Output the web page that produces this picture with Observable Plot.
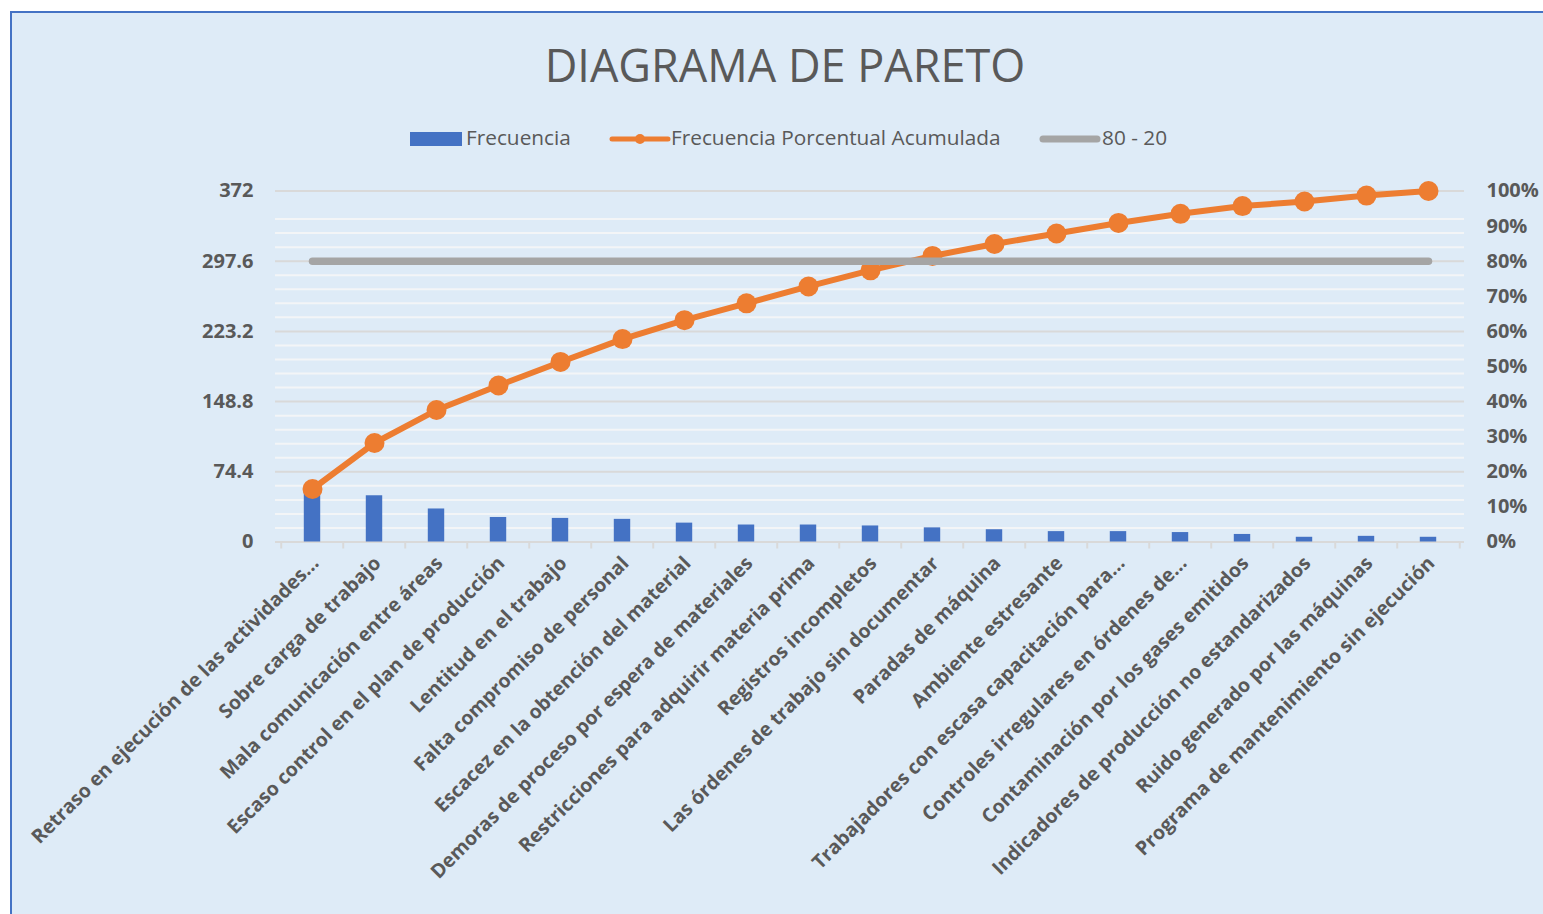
<!DOCTYPE html>
<html>
<head>
<meta charset="utf-8">
<script src="https://cdn.jsdelivr.net/npm/d3@7"></script>
<script src="https://cdn.jsdelivr.net/npm/@observablehq/plot@0.6"></script>
<style>
  html, body { margin: 0; padding: 0; background: #ffffff; }
  #wrap { position: relative; width: 1543px; height: 914px; overflow: hidden; font-family: "Open Sans", sans-serif; color: #595959; }
  #frame { position: absolute; left: 10px; top: 11px; width: 1600px; height: 1000px; border: 2px solid #4472C4; background: #DEEBF7; }
  #title { position: absolute; left: 0; top: 42px; width: 1570px; text-align: center; font-size: 45px; line-height: 45px; font-weight: 400; color: #595959; white-space: nowrap; }
  .leg { position: absolute; top: 127px; font-size: 20.8px; line-height: 21px; color: #595959; white-space: nowrap; }
  .sw { position: absolute; }
  #chart { position: absolute; left: 0; top: 160px; }
</style>
</head>
<body>
<div id="wrap">
  <div id="frame"></div>
  <div id="title">DIAGRAMA DE PARETO</div>
  <div id="legend"></div>
  <div id="chart"></div>
</div>
<script>
// ---- Data ----
const categories = [
  "Retraso en ejecución de las actividades...",
  "Sobre carga de trabajo",
  "Mala comunicación entre áreas",
  "Escaso control en el plan de producción",
  "Lentitud en el trabajo",
  "Falta compromiso de personal",
  "Escacez en la obtención del material",
  "Demoras de proceso por espera de materiales",
  "Restricciones para adquirir materia prima",
  "Registros incompletos",
  "Las órdenes de trabajo sin documentar",
  "Paradas de máquina",
  "Ambiente estresante",
  "Trabajadores con escasa capacitación para...",
  "Controles irregulares en órdenes de...",
  "Contaminación por los gases emitidos",
  "Indicadores de producción no estandarizados",
  "Ruido generado por las máquinas",
  "Programa de mantenimiento sin ejecución"
];
const frecuencia = [56, 49, 35, 26, 25, 24, 20, 18, 18, 17, 15, 13, 11, 11, 10, 8, 5, 6, 5];
const acumuladoPct = [15.1, 28.2, 37.6, 44.6, 51.3, 57.8, 63.2, 68.0, 72.8, 77.4, 81.5, 84.9, 87.9, 90.9, 93.5, 95.7, 97.0, 98.7, 100];
const linea8020 = [80, 80, 80, 80, 80, 80, 80, 80, 80, 80, 80, 80, 80, 80, 80, 80, 80, 80, 80];
const leftTicks = [0, 74.4, 148.8, 223.2, 297.6, 372];
const pctTicks = [0, 10, 20, 30, 40, 50, 60, 70, 80, 90, 100];

const total = 372; // left axis maximum = sum of frecuencia
const table = categories.map((c, i) => ({cat: c, freq: frecuencia[i], pct: acumuladoPct[i], ref: linea8020[i]}));
const minorTicks = d3.range(0, 24).map(i => i * total / 25).filter(v => !leftTicks.some(t => Math.abs(t - v) < 1e-6));

// ---- Legend (HTML, above the SVG) ----
const legend = document.getElementById("legend");
legend.innerHTML = `
  <div class="sw" style="left:410px;top:132px;width:52px;height:14px;background:#4472C4"></div>
  <div class="leg" style="left:466px">Frecuencia</div>
  <svg class="sw" style="left:608px;top:132px" width="64" height="14"><line x1="4" y1="7" x2="60" y2="7" stroke="#ED7D31" stroke-width="5" stroke-linecap="round"/><circle cx="32" cy="7" r="5" fill="#ED7D31"/></svg>
  <div class="leg" style="left:671px">Frecuencia Porcentual Acumulada</div>
  <svg class="sw" style="left:1039px;top:132px" width="62" height="14"><line x1="4" y1="7" x2="58" y2="7" stroke="#A5A5A5" stroke-width="7" stroke-linecap="round"/></svg>
  <div class="leg" style="left:1102px">80 - 20</div>
`;

// ---- Chart ----
const W = 1543, H = 754;
const mL = 275, mR = 79, mT = 30.5, mB = 372.5;
const bw = (W - mL - mR) / categories.length;

const chart = Plot.plot({
  width: W,
  height: H,
  marginLeft: mL,
  marginRight: mR,
  marginTop: mT,
  marginBottom: mB,
  style: {background: "transparent", fontFamily: "Open Sans, sans-serif", color: "#595959", overflow: "visible"},
  x: {type: "band", domain: categories, padding: 0, axis: null},
  y: {domain: [0, total], axis: null},
  marks: [
    Plot.ruleY(minorTicks, {stroke: "#F3F5F7", strokeWidth: 2}),
    Plot.ruleY(leftTicks, {stroke: "#D9D9D9", strokeWidth: 2}),
    // category boundary tick marks
    Plot.ruleX(table, {x: "cat", y1: 0, y2: 0, dx: -bw / 2, insetBottom: -7, stroke: "#D9D9D9", strokeWidth: 2}),
    Plot.ruleX(table.slice(-1), {x: "cat", y1: 0, y2: 0, dx: bw / 2, insetBottom: -7, stroke: "#D9D9D9", strokeWidth: 2}),
    Plot.barY(table, {x: "cat", y: "freq", fill: "#4472C4", insetLeft: (bw - 17) / 2, insetRight: (bw - 17) / 2}),
    Plot.line(table, {x: "cat", y: d => d.pct / 100 * total, stroke: "#ED7D31", strokeWidth: 6, curve: "linear"}),
    Plot.dot(table, {x: "cat", y: d => d.pct / 100 * total, r: 10, fill: "#ED7D31", stroke: "none"}),
    Plot.line(table, {x: "cat", y: d => d.ref / 100 * total, stroke: "#A5A5A5", strokeWidth: 7.5, strokeLinecap: "round"}),
    Plot.axisY({anchor: "left", ticks: leftTicks, tickFormat: d => String(d), tickSize: 0, tickPadding: 22, label: null, fontSize: 20, fontWeight: 700, fill: "#595959"}),
    Plot.axisY({anchor: "right", ticks: pctTicks.map(p => p / 100 * total), tickFormat: d => Math.round(d / total * 100) + "%", tickSize: 0, tickPadding: 22, label: null, fontSize: 20, fontWeight: 700, fill: "#595959"}),
    Plot.text(table, {x: "cat", text: "cat", frameAnchor: "bottom", rotate: -45, textAnchor: "end", lineAnchor: "middle", dy: 18, dx: 3, fontSize: 19.5, fontWeight: 700, fill: "#595959"})
  ]
});
document.getElementById("chart").appendChild(chart);
</script>
</body>
</html>
